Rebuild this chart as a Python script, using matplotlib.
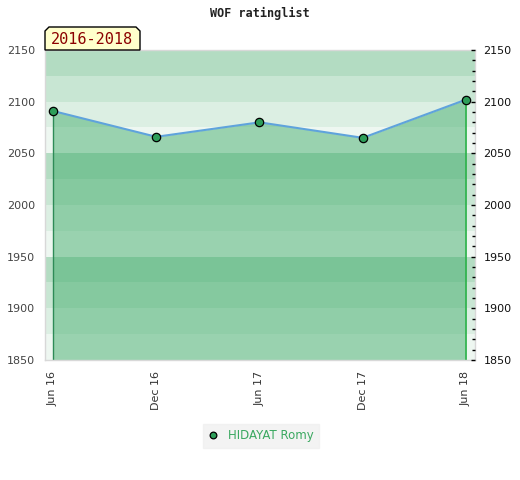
import matplotlib
matplotlib.use("Agg")
import matplotlib.pyplot as plt
from matplotlib.patches import Polygon
from matplotlib.ticker import MultipleLocator

# data
dates = ["Jun 16", "Dec 16", "Jun 17", "Dec 17", "Jun 18"]
ratings = [2091, 2066, 2080, 2065, 2102]
player = "HIDAYAT Romy"
period = "2016-2018"
title = "WOF ratinglist"
y_min, y_max = 1850, 2150

band_colors = ["#b3dcc2", "#c8e6d3", "#dcefe3", "#eef7f1"]

fig = plt.figure(figsize=(5.2, 4.8), dpi=100)
ax = fig.add_axes([45 / 520, 1 - 360 / 480, 430 / 520, 310 / 480])

x = list(range(len(dates)))

# horizontal background bands, 25 points each, cycling every 100
lo = y_max
i = 0
while lo > y_min:
    ax.axhspan(lo - 25, lo, color=band_colors[i % 4], lw=0, zorder=0)
    lo -= 25
    i += 1

ax.fill_between(x, ratings, y_min, color="#3daa68", alpha=0.48, lw=0, zorder=1)
ax.plot([x[0], x[0]], [y_min, ratings[0]], color="#2e8b57", lw=1, zorder=2)
ax.plot([x[-1], x[-1]], [y_min, ratings[-1]], color="#2db34a", lw=1.2, zorder=2)
ax.plot(x, ratings, color="#5fa3dc", lw=1.5, zorder=3)
ax.plot(x, ratings, "o", ms=6, mfc="#2e9e5a", mec="black", mew=0.9, zorder=4,
        label=player)

ax.set_xlim(-0.077, 4.087)
ax.set_ylim(y_min, y_max)
ax.set_xticks(x)
ax.set_xticklabels(dates, rotation=90, fontsize=8, color="#333333")
ax.tick_params(axis="x", length=0, pad=8)
ax.yaxis.set_major_locator(MultipleLocator(50))
ax.tick_params(axis="y", length=0, pad=7, labelsize=8, labelcolor="#444444")
for s in ax.spines.values():
    s.set_color("#d8d8d8")
    s.set_linewidth(1)

ax2 = ax.twinx()
ax2.set_ylim(y_min, y_max)
ax2.yaxis.set_major_locator(MultipleLocator(50))
ax2.yaxis.set_minor_locator(MultipleLocator(10))
ax2.tick_params(axis="y", which="major", length=3, width=1, direction="in",
                pad=6, labelsize=8, labelcolor="#111111")
ax2.tick_params(axis="y", which="minor", length=2.2, width=1, direction="in")
ax2.yaxis.set_tick_params(which="both", color="black")
for s in ax2.spines.values():
    s.set_visible(False)

fig.text(0.5, 1 - 13 / 480, title, ha="center", va="center",
         family="DejaVu Sans Mono", fontweight="bold", fontsize=8.5, color="#222222")

# period tag with chamfered top corners
px = [45, 45, 49, 136, 140, 140]
py = [50, 31, 27, 27, 31, 50]
tag = Polygon([(a / 520, 1 - b / 480) for a, b in zip(px, py)], closed=True,
              transform=fig.transFigure, fc="#ffffcc", ec="black", lw=1)
fig.patches.append(tag)
fig.text(92 / 520, 1 - 40 / 480, period, ha="center", va="center",
         family="DejaVu Sans Mono", fontsize=11, color="#8b0000")

leg = fig.legend(loc="center", bbox_to_anchor=(261 / 520, 1 - 436 / 480),
                 fontsize=8.5, frameon=True, fancybox=False, handlelength=0.8,
                 handletextpad=0.8, borderpad=0.5, markerscale=0.8)
leg.get_frame().set_facecolor("#f0f0f0")
leg.get_frame().set_edgecolor("#f0f0f0")
for t in leg.get_texts():
    t.set_color("#3aa860")

fig.savefig("out.png", dpi=100)
